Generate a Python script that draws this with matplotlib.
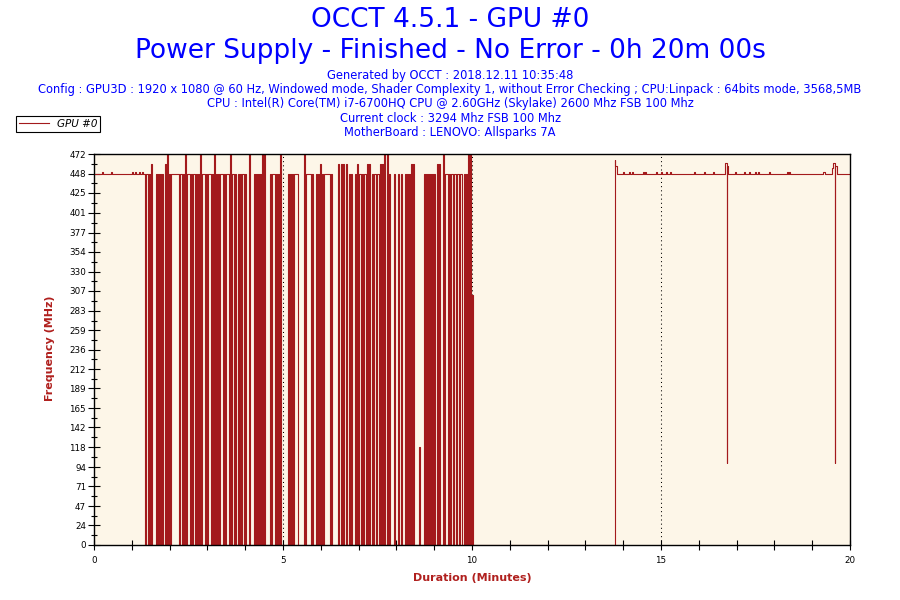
#!/usr/bin/env python3
"""
OCCT 4.5.1 power supply test - GPU #0 core frequency over 20 minutes.
Values read off the original OCCT chart.
"""
import numpy as np
import matplotlib
matplotlib.use("Agg")
import matplotlib.pyplot as plt
from matplotlib.lines import Line2D

RED = "#a31a1c"
CREAM = "#fdf6e8"
BLUE = "#0000ff"
LABEL_RED = "#b0201e"

# --- data -------------------------------------------------------------
# idle part before the load starts (minutes, MHz), steps-post
pre_t = [0.0, 0.212, 0.238, 0.450, 0.476, 1.005, 1.032, 1.085, 1.111,
         1.190, 1.217, 1.270, 1.296]
pre_v = [448, 450, 448, 450, 448, 450, 448, 450, 448,
         450, 448, 450, 448]

# throttling part, one sample every ~1.59 s from 1.336 min on
busy_start = 1.336
busy_step = 0.026455
busy_levels = (
    "0HH0H0M000" "0H0H0H0H00" "M0T0H0HHHH" "HHHH0HH0H0" "T0HHH0H0HH"
    "0H0H0T0HHH" "0H0HHH0H0T" "0H0H0HHH0H" "0HHH0T0HH0" "H00H0H0HH0"
    "H000T0000H" "0H0H0H0T0T" "00000H0HHH" "0H0H0T0000" "000H0H0H0H"
    "HHH000000T" "0HHHHH0H00" "0H0H0M0H0H" "HHHHH0H000" "000M00M0M0"
    "0M00H0H000" "H0M0HH0H0H" "H0M0M00H0H" "H0HH0M0M0T" "00T0H0000H"
    "000H00H000" "H0H0H0M0M0" "0000b0000H" "0H0H0H0H0H" "00M0M000T0"
    "HHH0H0HH0H" "H0HH0HH00H" "0H0T0T0e00" "0"
)
level_mhz = {"0": 0, "b": 118, "e": 302, "H": 448, "M": 460, "T": 472}

# recovery after the GPU stopped (minutes, MHz), steps-post
tail_t = [13.770, 13.796, 13.849,
          13.995, 14.021, 14.153, 14.180, 14.233, 14.259,
          14.524, 14.550, 14.577, 14.603, 14.868, 14.894,
          15.000, 15.026, 15.132, 15.159, 15.238, 15.265,
          15.873, 15.899, 16.138, 16.164, 16.376, 16.402,
          16.680, 16.706, 16.733, 16.759, 16.785,
          16.958, 16.984, 17.196, 17.222, 17.328, 17.354,
          17.487, 17.513, 17.566, 17.593, 17.857, 17.884,
          18.333, 18.360, 18.386, 18.413, 19.286, 19.339,
          19.537, 19.563, 19.590, 19.616, 19.643, 20.0]
tail_v = [465, 458, 448,
          450, 448, 450, 448, 450, 448,
          450, 448, 450, 448, 450, 448,
          450, 448, 450, 448, 450, 448,
          450, 448, 450, 448, 450, 448,
          455, 461, 99, 458, 448,
          450, 448, 450, 448, 450, 448,
          450, 448, 450, 448, 450, 448,
          450, 448, 450, 448, 450, 448,
          455, 461, 99, 458, 448, 448]

y_ticks = [0, 24, 47, 71, 94, 118, 142, 165, 189, 212, 236, 259, 283,
           307, 330, 354, 377, 401, 425, 448, 472]
x_ticks = list(range(0, 21))
x_labels = ["0", "", "", "", "", "5", "", "", "", "", "10",
            "", "", "", "", "15", "", "", "", "", "20"]

title_lines = ["OCCT 4.5.1 - GPU #0",
               "Power Supply - Finished - No Error - 0h 20m 00s"]
info_lines = [
    "Generated by OCCT : 2018.12.11 10:35:48",
    "Config : GPU3D : 1920 x 1080 @ 60 Hz, Windowed mode, Shader Complexity 1, "
    "without Error Checking ; CPU:Linpack : 64bits mode, 3568,5MB",
    "CPU : Intel(R) Core(TM) i7-6700HQ CPU @ 2.60GHz (Skylake) 2600 Mhz FSB 100 Mhz",
    "Current clock : 3294 Mhz FSB 100 Mhz",
    "MotherBoard : LENOVO: Allsparks 7A",
]


def build_series():
    busy_v = [level_mhz[c] for c in busy_levels]
    busy_t = busy_start + busy_step * np.arange(len(busy_v))
    t = np.concatenate([pre_t, busy_t, tail_t])
    v = np.concatenate([pre_v, busy_v, tail_v])
    return t, v


def main():
    plt.rcParams["font.family"] = ["DejaVu Sans"]
    fig = plt.figure(figsize=(9, 6), dpi=100)
    ax = fig.add_axes([94 / 900, 55 / 600, 756 / 900, 391 / 600])
    ax.set_facecolor(CREAM)

    t, v = build_series()
    ax.plot(t, v, drawstyle="steps-post", color=RED, lw=0.8)

    ax.set_xlim(0, 20)
    ax.set_ylim(0, 472)

    ax.set_yticks(y_ticks)
    ax.set_yticklabels([str(y) for y in y_ticks])
    ax.set_yticks([(a + b) / 2 for a, b in zip(y_ticks[:-1], y_ticks[1:])],
                  minor=True)
    ax.set_xticks(x_ticks)
    ax.set_xticklabels(x_labels)
    ax.tick_params(axis="y", which="major", direction="inout", length=8.5,
                   width=0.8, labelsize=6.3, pad=1.5)
    ax.tick_params(axis="y", which="minor", direction="inout", length=4,
                   width=0.8)
    ax.tick_params(axis="x", which="major", direction="inout", length=6.5,
                   width=0.8, labelsize=6.3, pad=5)
    for s in ax.spines.values():
        s.set_linewidth(1.0)
        s.set_color("black")

    # dotted guides every 5 minutes
    ax.set_axisbelow(True)
    for xg in (5, 10, 15):
        ax.axvline(xg, color="black", lw=0.75, ls=(0, (1, 3)), zorder=1)

    for i, txt in enumerate(title_lines):
        fig.text(0.5, 1 - (20 + 30.5 * i) / 600, txt, ha="center",
                 va="center", color=BLUE, fontsize=19)
    for i, txt in enumerate(info_lines):
        fig.text(0.5, 1 - (75.5 + 14.2 * i) / 600, txt, ha="center",
                 va="center", color=BLUE, fontsize=8.3)

    fig.text(50 / 900, 1 - 348 / 600, "Frequency (MHz)", rotation=90,
             ha="center", va="center", color=LABEL_RED, fontsize=8,
             fontweight="bold")
    fig.text(472 / 900, 1 - 578 / 600, "Duration (Minutes)", ha="center",
             va="center", color=LABEL_RED, fontsize=8, fontweight="bold")

    handle = Line2D([], [], color=RED, lw=0.8)
    leg = ax.legend([handle], ["GPU #0"], loc="upper left",
                    bbox_to_anchor=(16 / 900, 1 - 116 / 600),
                    bbox_transform=fig.transFigure, fancybox=False,
                    framealpha=1, edgecolor="black", borderaxespad=0,
                    handlelength=2.9, borderpad=0.3, handletextpad=0.7,
                    prop={"size": 7.5, "style": "italic"})
    leg.get_frame().set_linewidth(0.8)

    fig.savefig("out.png", dpi=100)
    plt.close(fig)


if __name__ == "__main__":
    main()
